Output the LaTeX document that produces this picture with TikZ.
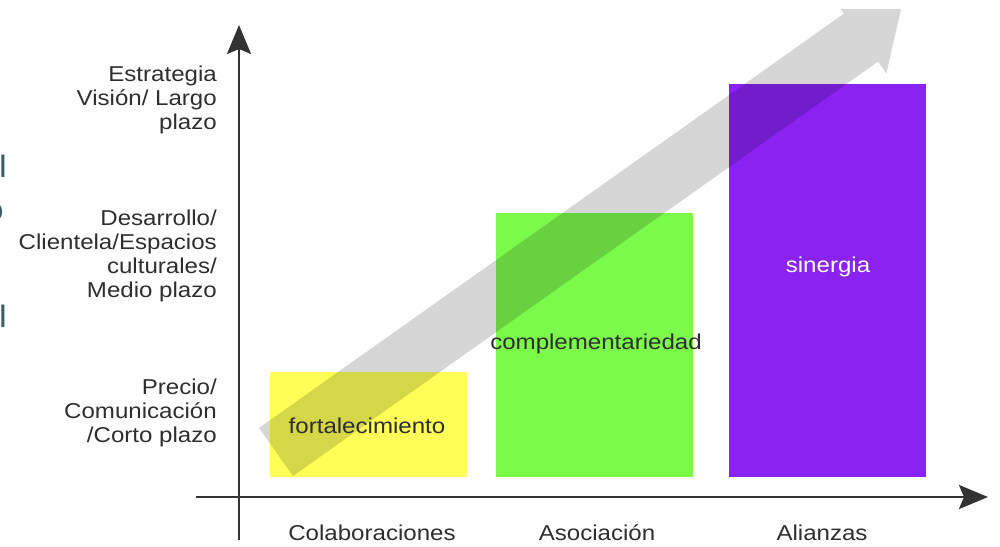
\documentclass[tikz,border=0pt]{standalone}
\usepackage{fontspec}
\setmainfont[FakeStretch=1.12]{Liberation Sans}
\usetikzlibrary{arrows.meta}
\definecolor{txt}{HTML}{2E2E2E}
\definecolor{axisc}{HTML}{333333}
\definecolor{byel}{HTML}{FFFF57}
\definecolor{bgrn}{HTML}{7CFA4C}
\definecolor{bpur}{HTML}{8A22F2}
\definecolor{frag}{HTML}{3D5B6B}
\begin{document}
\begin{tikzpicture}[x=1pt,y=-1pt,
  lbl/.style={font=\fontsize{21.5}{24}\selectfont, text=txt, inner sep=0pt},
  ylbl/.style={lbl, align=right, anchor=east},
  bar/.style={draw=none, minimum width=197pt, inner sep=0pt, anchor=south west},
  axisline/.style={draw=axisc, line width=2.5pt, -{Stealth[length=29pt,width=24pt,inset=5pt]}},
  trend/.style={fill=black, fill opacity=0.16},
  fragtxt/.style={font=\fontsize{31}{34}\selectfont, text=frag, inner sep=0pt, anchor=base}]
\useasboundingbox (0,0) rectangle (1000,546);

% bars
\node[bar, fill=byel, minimum height=105pt] (b1) at (270,477) {};
\node[bar, fill=bgrn, minimum height=264pt] (b2) at (496,477) {};
\node[bar, fill=bpur, minimum height=393pt] (b3) at (729,477) {};

% trend arrow
\begin{scope}
  \clip (0,9) rectangle (1000,546);
  \path[trend] (259,428) -- (293,476) -- (878,61.6) -- (886.4,73.5) -- (901,9.3)
     -- (835.6,1.7) -- (844,13.6) -- cycle;
\end{scope}

% bar labels
\node[lbl] (t1) at (367,426) {fortalecimiento};
\node[lbl] (t2) at (596,344) {complementariedad};
\node[lbl, text=white] (t3) at (828,267) {sinergia};

% y labels
\node[ylbl] (y3) at (217,100) {Estrategia\\Visión/ Largo\\plazo};
\node[ylbl] (y2) at (217,256) {Desarrollo/\\Clientela/Espacios\\culturales/\\Medio plazo};
\node[ylbl] (y1) at (217,413) {Precio/\\Comunicación\\/Corto plazo};

% x labels
\node[lbl] (x1) at (372,533) {Colaboraciones};
\node[lbl] (x2) at (597,533) {Asociación};
\node[lbl] (x3) at (822,533) {Alianzas};

% cut-off fragments at left edge
\begin{scope}
  \clip (0,0) rectangle (1000,546);
  \node[fragtxt] (f1) at (3,177) {l};
  \node[fragtxt] (f2) at (-6,220) {o};
  \node[fragtxt] (f3) at (3,327) {l};
\end{scope}

% axes
\coordinate (ybot) at (239,540);
\coordinate (ytop) at (239,25);
\coordinate (xleft) at (196,497);
\coordinate (xright) at (988,497);
\draw[axisline] (ybot) -- (ytop);
\draw[axisline] (xleft) -- (xright);
\end{tikzpicture}
\end{document}
